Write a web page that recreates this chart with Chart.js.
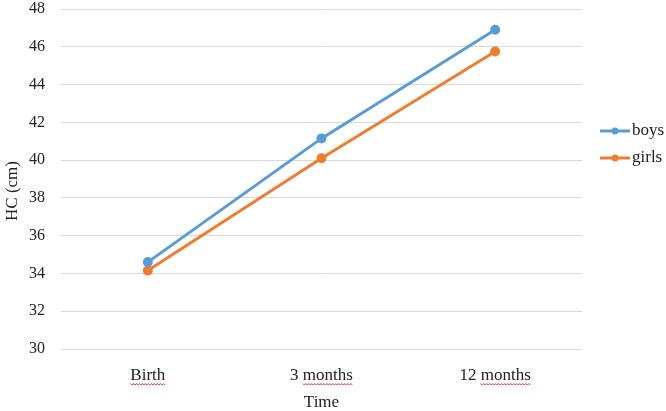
<!DOCTYPE html>
<html>
<head>
<meta charset="utf-8">
<script src="https://cdn.jsdelivr.net/npm/chart.js@4"></script>
<style>
  html, body { margin: 0; padding: 0; background: #fff; }
  #wrap { width: 666px; height: 411px; }
</style>
</head>
<body>
<div id="wrap"><canvas id="myChart" width="666" height="411"></canvas></div>
<script>
const categories = ['Birth', '3 months', '12 months'];
const boys = [34.6, 41.15, 46.9];
const girls = [34.15, 40.1, 45.75];
const yTicks = [30, 32, 34, 36, 38, 40, 42, 44, 46, 48];
// words the word processor flagged with a red squiggle
const flagged = ['Birth', 'months'];

const BLUE = '#5B9BD5';
const ORANGE = '#ED7D31';
const TEXT = '#222';
const FONT = '"Liberation Serif", "Times New Roman", serif';
const LABEL_SIZE = 17;

// legend drawn by hand: line with a dot, label to its right
const sideLegend = {
    id: 'sideLegend',
    afterDraw(chart) {
        const g = chart.ctx;
        const x0 = chart.chartArea.right + 18;
        const y0 = 131;
        g.save();
        g.font = LABEL_SIZE + 'px ' + FONT;
        g.textBaseline = 'middle';
        chart.data.datasets.forEach((ds, i) => {
            const y = y0 + i * 27;
            g.strokeStyle = ds.borderColor;
            g.lineWidth = 3;
            g.beginPath();
            g.moveTo(x0, y);
            g.lineTo(x0 + 30, y);
            g.stroke();
            g.fillStyle = ds.borderColor;
            g.beginPath();
            g.arc(x0 + 15, y, 3.5, 0, Math.PI * 2);
            g.fill();
            g.fillStyle = TEXT;
            g.fillText(ds.label, x0 + 32, y);
        });
        g.restore();
    }
};

// red wavy underline under flagged words, plus the y title placed like the original
const extras = {
    id: 'extras',
    afterDraw(chart) {
        const g = chart.ctx;
        const xs = chart.scales.x;
        g.save();
        g.font = LABEL_SIZE + 'px ' + FONT;
        g.strokeStyle = '#e03030';
        g.lineWidth = 1;
        categories.forEach((label, i) => {
            const cx = xs.getPixelForTick(i);
            const left = cx - g.measureText(label).width / 2;
            flagged.forEach(w => {
                const at = label.indexOf(w);
                if (at < 0) return;
                const sx = left + g.measureText(label.slice(0, at)).width;
                const ex = sx + g.measureText(w).width;
                g.beginPath();
                for (let x = sx, k = 0; x <= ex; x += 1.5, k++) {
                    const yy = 384 + (k % 2 ? 1 : -0.5);
                    if (k === 0) g.moveTo(x, yy); else g.lineTo(x, yy);
                }
                g.stroke();
            });
        });
        g.fillStyle = TEXT;
        g.textAlign = 'center';
        g.textBaseline = 'middle';
        g.translate(13, 191);
        g.rotate(-Math.PI / 2);
        g.fillText('HC (cm)', 0, 0);
        g.restore();
    }
};

const ctx = document.getElementById('myChart');

new Chart(ctx, {
    type: 'line',
    data: {
        labels: categories,
        datasets: [{
            label: 'boys',
            data: boys,
            borderColor: BLUE,
            backgroundColor: BLUE,
            borderWidth: 3,
            pointRadius: 3.5,
            pointHoverRadius: 3.5
        }, {
            label: 'girls',
            data: girls,
            borderColor: ORANGE,
            backgroundColor: ORANGE,
            borderWidth: 3,
            pointRadius: 3.5,
            pointHoverRadius: 3.5
        }]
    },
    options: {
        responsive: false,
        animation: false,
        layout: {
            padding: { top: 0, right: 84, bottom: 0, left: 0 }
        },
        scales: {
            x: {
                offset: true,
                grid: { display: false, drawTicks: false },
                border: { display: false },
                afterFit: s => { s.height = 62; },
                ticks: {
                    color: TEXT,
                    padding: 16,
                    font: { family: FONT, size: LABEL_SIZE }
                },
                title: {
                    display: true,
                    text: 'Time',
                    color: TEXT,
                    padding: { top: 0, bottom: -2 },
                    font: { family: FONT, size: LABEL_SIZE }
                }
            },
            y: {
                min: yTicks[0],
                max: yTicks[yTicks.length - 1],
                afterBuildTicks: axis => {
                    axis.ticks = yTicks.map(v => ({ value: v }));
                },
                afterFit: s => {
                    s.width = 61;
                    s.paddingTop = 9;
                    s.paddingBottom = 0;
                },
                grid: {
                    color: '#d9d9d9',
                    lineWidth: 1,
                    drawTicks: false
                },
                border: { display: false },
                ticks: {
                    color: TEXT,
                    padding: 16,
                    font: { family: FONT, size: 16 }
                }
            }
        },
        plugins: {
            legend: { display: false },
            tooltip: { enabled: false }
        }
    },
    plugins: [sideLegend, extras]
});
</script>
</body>
</html>
